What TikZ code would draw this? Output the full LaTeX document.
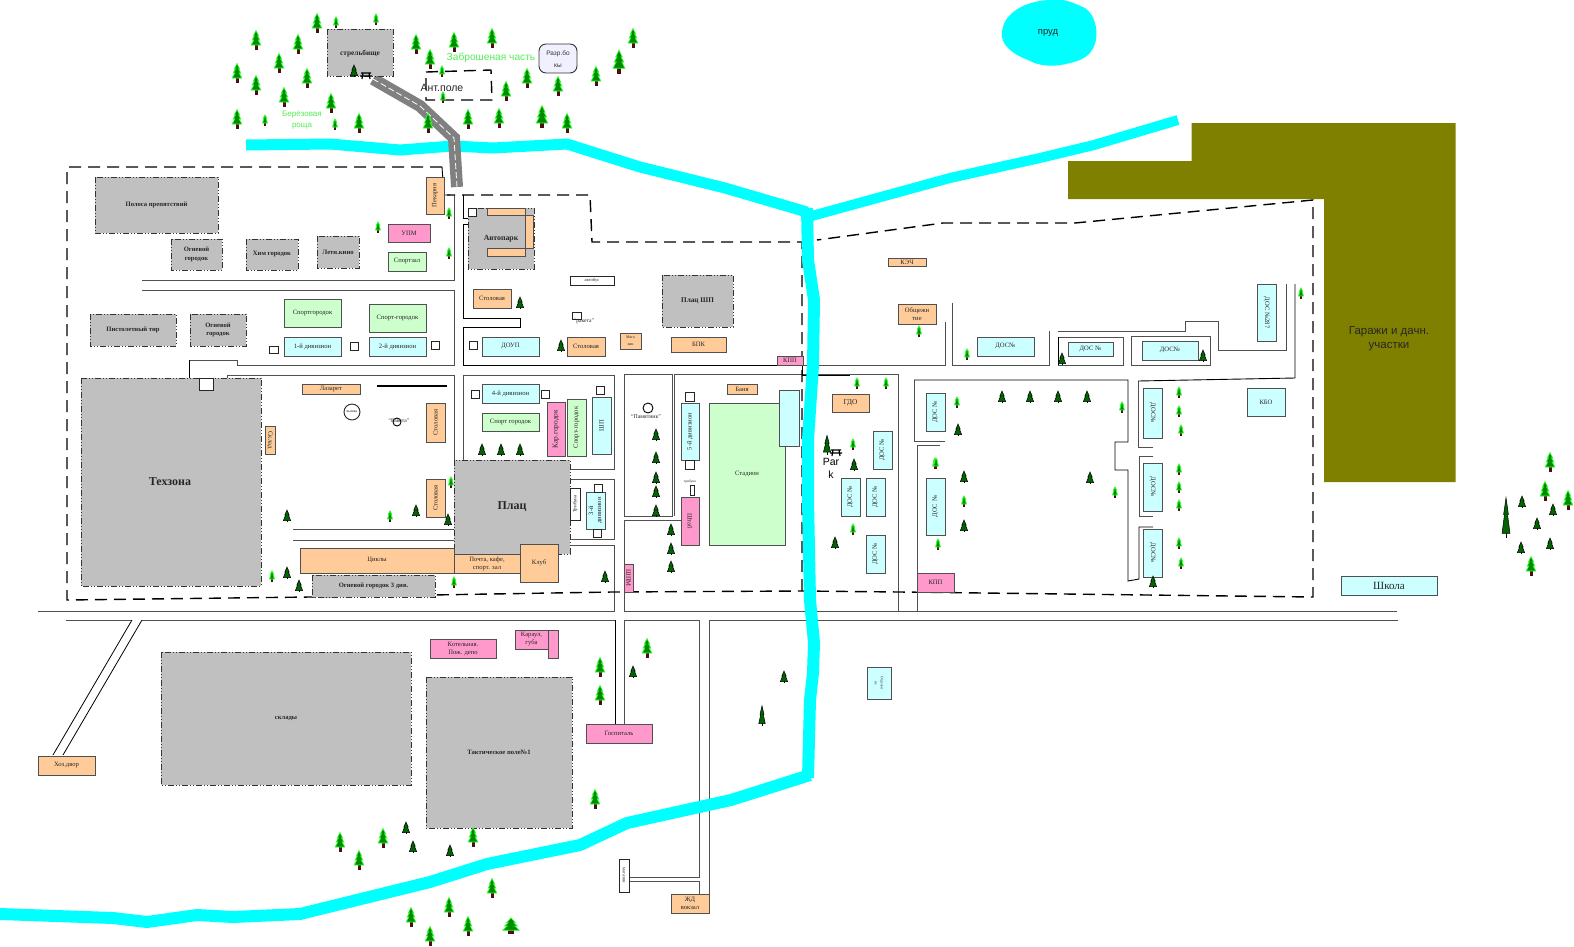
\documentclass[tikz,border=0pt]{standalone}
\usepackage{fontspec}
\setmainfont{Liberation Serif}
\newfontfamily\sansf{Liberation Sans}
\definecolor{cOr}{HTML}{FFCC99}
\definecolor{cCy}{HTML}{CCFFFF}
\definecolor{cGr}{HTML}{CCFFCC}
\definecolor{cPk}{HTML}{FF99CC}
\definecolor{cZn}{HTML}{C0C0C0}
\definecolor{cLn}{HTML}{505050}
\definecolor{cBr}{HTML}{4A0F0F}
\definecolor{cOl}{HTML}{808000}
\definecolor{cLg}{HTML}{55EE55}
\definecolor{cRv}{HTML}{00FFFF}
\definecolor{cFg}{HTML}{008A00}
\definecolor{cFl}{HTML}{33FF33}
\definecolor{cFd}{HTML}{006400}
\tikzset{
  base/.style={draw=cLn,line width=1pt},
  orb/.style={base,fill=cOr},
  cyb/.style={base,fill=cCy},
  grb/.style={base,fill=cGr},
  pkb/.style={base,fill=cPk},
  whb/.style={draw=black!85,line width=.9pt,fill=white},
  znb/.style={draw=black!80,fill=cZn,line width=1pt,dash pattern=on 6pt off 2pt on 1pt off 2pt on 1pt off 2pt},
  lbl/.style={inner sep=0pt,align=center,text=black!85,font=\fontsize{6.6}{8}\selectfont},
  zlb/.style={lbl,font=\fontsize{6.6}{8.5}\selectfont\bfseries},
  rd/.style={draw=cLn,line width=.9pt},
  bk/.style={draw=black,line width=.9pt},
  fence/.style={draw=black,line width=1.4pt,dash pattern=on 12pt off 7pt},
  riv/.style={draw=cRv,line join=round,line width=#1},
  firbig/.pic={
    \fill[cBr] (-1.5,3) rectangle (1.5,9.5);
    \filldraw[fill=cFg,draw=cFl,line width=.7pt]
      (0,-9.5)--(-2.6,-4)--(-1.6,-4)--(-3.8,0)--(-2.2,0)--(-4.8,5)--(4.8,5)--(2.2,0)--(3.8,0)--(1.6,-4)--(2.6,-4)--cycle;
  },
  firsm/.pic={
    \fill[cBr] (-.8,2) rectangle (.8,5.5);
    \filldraw[fill=cFg,draw=cFl,line width=.8pt]
      (0,-5)--(-1.6,-2)--(-1,-2)--(-2.4,3)--(2.4,3)--(1,-2)--(1.6,-2)--cycle;
  },
  firdk/.pic={
    \draw[black,line width=.7pt] (0,3) -- (0,6);
    \filldraw[fill=cFd,draw=black,line width=.5pt]
      (0,-6)--(-2.2,-1)--(-1.4,-1)--(-3.6,4.5)--(3.6,4.5)--(1.4,-1)--(2.2,-1)--cycle;
  },
  bench/.pic={
    \draw[black,line width=1.2pt] (-5,-2)--(5,-2) (-6,1)--(6,1) (-3,-2)--(-4,4) (3,-2)--(4,4);
  },
}
\newcommand{\bx}[5]{\draw[#1] (#2) rectangle (#3) node[midway,#4] {#5};}
\newcommand{\firsL}[1]{\foreach \xx/\yy in {#1} \pic at (\xx,\yy) {firbig};}
\newcommand{\firsS}[1]{\foreach \xx/\yy in {#1} \pic at (\xx,\yy) {firsm};}
\newcommand{\firsD}[1]{\foreach \xx/\yy in {#1} \pic at (\xx,\yy) {firdk};}
\newcommand{\sqs}[1]{\foreach \xx/\yy/\ww/\hh in {#1} \draw[whb] (\xx-\ww/2,\yy-\hh/2) rectangle (\xx+\ww/2,\yy+\hh/2);}
\begin{document}
\begin{tikzpicture}[x=1pt,y=-1pt]
\useasboundingbox (0,0) rectangle (1574,946);
\fill[white] (0,0) rectangle (1574,946);

% olive plots
\fill[cOl] (1191.5,123)--(1455.5,123)--(1455.5,482)--(1324,482)--(1324,199)--(1068,199)--(1068,161)--(1191.5,161)--cycle;
\node[inner sep=0pt,align=center,text=black!85,font=\sansf\fontsize{11.5}{14}\selectfont] at (1389,339) {Гаражи и дачн.\\участки};

% roads
\draw[rd] (38,611)--(615,611) (624,611)--(1397,611);
\draw[rd] (66,620)--(132,620) (142,620)--(615,620);
\draw[bk,line width=.8pt] (132,620)--(53,755) (142,620)--(63,755);
\draw[bk] (615,620)--(615,724);
\draw[rd] (624,724)--(624,620)--(699,620)--(699,877)--(630,877);
\draw[rd] (630,881)--(699,881)--(699,894);
\draw[rd] (709,894)--(709,620)--(1398,620);
\draw[rd] (142,280)--(454,280)--(454,195);
\draw[rd] (142,290)--(454,290)--(454,365)--(237,365)--(237,360)--(189,360);
\draw[bk] (189,360)--(189,378);
\draw[rd] (227,378)--(227,375)--(454,375)--(454,460);
\draw[rd] (293,529)--(454,529);
\draw[rd] (293,540)--(454,540);
\draw[bk] (463,195)--(463,218)--(470,218);
\draw[bk] (470,224)--(463,224)--(463,318)--(520,318)--(520,327)--(463,327)--(463,365)--(777,365);
\draw[rd] (463,460)--(463,375)--(614,375)--(614,469)--(570,469);
\draw[rd] (570,479)--(614,479)--(614,539)--(570,539);
\draw[rd] (570,545)--(614,545)--(614,611);
\draw[rd] (624,374) rectangle (672,516);
\draw[rd] (674,516)--(674,374)--(898,374)--(898,611);
\draw[rd] (681,520)--(624,520)--(624,611);
\draw[bk] (802,365)--(802,375)--(850,375);
\draw[rd] (917,611)--(917,445)--(940,445);
\draw[rd] (945,441)--(914,441)--(914,380);
\draw[bk] (914,380)--(1128,380)--(1128,442)--(1115,442)--(1115,470)--(1128,470)--(1128,581)--(1139,579)--(1139,527)--(1153,527);
\draw[rd] (1153,456)--(1139,456)--(1139,516)--(1153,516);
\draw[rd] (1153,447)--(1138,447)--(1138,381);
\draw[bk] (1138,381)--(1295,378)--(1295,284);
\draw[rd] (802,365)--(945,365)--(945,322);
\draw[rd] (952,303)--(952,365)--(1049,365)--(1049,331);
\draw[rd] (1058,331)--(1185,331)--(1185,321)--(1218,321)--(1218,350)--(1286,350)--(1286,284);
\draw[rd] (1058,337) rectangle (1123,365);
\draw[rd] (1131,336) rectangle (1210,365);
\draw[bk] (1058,337)--(1058,365);

% fences
\draw[fence] (442,167)--(67,167)--(67,600)--(310,597)--(612,592)--(802,591)--(900,592)--(1313,597)--(1313,200)--(1075,223)--(943,223)--(817,240);
\draw[fence] (802,591)--(802,242)--(592,242)--(590,195)--(447,195);
\draw[bk] (442,167)--(444,195)--(450,195);
\draw[fence] (426,72)--(491,70)--(492,100)--(426,100)--cycle;

% rivers
\draw[riv=11pt] (246,145)--(330,144)--(400,150)--(453,146)--(493,148)--(567,144)--(640,167)--(725,188)--(807,212);
\draw[riv=10pt] (808,217)--(950,178)--(1040,158)--(1094,145)--(1178,120);
\draw[riv=12pt] (807,208)--(808,260)--(814,300)--(813,365)--(808,440)--(808,500)--(810,600)--(814,643)--(813,673)--(810,700)--(808,778);
\draw[riv=12pt] (810,775)--(731,800)--(627,823)--(580,845)--(487,864)--(430,882)--(300,914)--(233,917)--(197,915)--(147,922)--(113,918)--(0,914);
\fill[cRv] (1048,0) .. controls (1060,-3) and (1072,2) .. (1085,8) .. controls (1094,14) and (1098,28) .. (1096,40) .. controls (1093,54) and (1084,60) .. (1070,63) .. controls (1056,67) and (1040,67) .. (1028,60) .. controls (1012,54) and (1000,44) .. (1002,32) .. controls (1003,16) and (1020,2) .. (1048,0) -- cycle;
\node[inner sep=0pt,text=black!85,font=\sansf\fontsize{9.5}{11}\selectfont] at (1048,33) {пруд};

% road across the river
\draw[draw=gray,line width=12pt,line join=miter] (373,79)--(420,106)--(454,138)--(457,187);
\draw[draw=white,line width=.8pt,dash pattern=on 6pt off 3pt] (373,79)--(420,106)--(454,138)--(457,187);

% grey zones
\bx{znb}{327,29}{393,76}{zlb,font=\fontsize{7.4}{9}\selectfont\bfseries,yshift=-1pt}{стрельбище}
\bx{znb}{95,177}{218,233}{zlb}{Полоса препятствий}
\bx{znb}{171,239}{222,270}{zlb}{Огневой\\городок}
\bx{znb}{246,239}{298,270}{zlb}{Хим городок}
\bx{znb}{317,236}{359,268}{zlb}{Летн.кино}
\bx{znb}{90,314}{176,346}{zlb}{Пистолетный тир}
\bx{znb}{190,314}{246,346}{zlb}{Огневой\\городок}
\bx{znb}{81,378}{261,586}{zlb,font=\fontsize{12}{14}\selectfont\bfseries,xshift=-1pt,yshift=0pt}{Техзона}
\bx{znb}{468,208}{534,269}{zlb,font=\fontsize{7.8}{9}\selectfont\bfseries}{Автопарк}
\bx{znb}{662,275}{733,327}{zlb,font=\fontsize{7.2}{9}\selectfont\bfseries}{Плац ШП}
\bx{znb}{454,460}{570,554}{zlb,font=\fontsize{12}{14}\selectfont\bfseries}{Плац}
\bx{znb}{312,575}{435,597}{zlb}{Огневой городок 3 див.}
\bx{znb}{161,652}{411,785}{zlb}{склады}
\bx{znb}{426,677}{572,828}{zlb}{Тактическое поле№1}

% orange
\bx{orb}{426,177}{444,214}{lbl,rotate=90}{Пекарня}
\bx{orb}{487,208}{525,215}{lbl}{}
\bx{orb}{525,215}{533,248}{lbl}{}
\bx{orb}{487,248}{525,256}{lbl}{}
\bx{orb}{473,289}{511,308}{lbl}{Столовая}
\bx{orb}{567,337}{605,356}{lbl}{Столовая}
\bx{orb}{620,333}{641,349}{lbl,font=\fontsize{4}{7}\selectfont}{Мага\\зин}
\bx{orb}{671,337}{726,352}{lbl}{БПК}
\bx{orb}{302,384}{360,394}{lbl}{Лазарет}
\bx{orb}{265,426}{275,454}{lbl,rotate=-90}{Склад}
\bx{orb}{426,403}{445,442}{lbl,rotate=90}{Столовая}
\bx{orb}{426,479}{445,517}{lbl,rotate=90}{Столовая}
\bx{orb}{300,548}{454,573}{lbl}{Циклы}
\bx{orb}{454,554}{520,573}{lbl}{Почта, кафе,\\спорт. зал}
\bx{orb}{520,544}{558,582}{lbl}{Клуб}
\bx{orb}{727,384}{757,394}{lbl}{Баня}
\bx{orb}{832,394}{869,412}{lbl,font=\fontsize{7.4}{9}\selectfont}{ГДО}
\bx{orb}{888,258}{926,266}{lbl}{КЭЧ}
\bx{orb}{898,304}{936,324}{lbl}{Общежи\\тие}
\bx{orb}{38,756}{95,775}{lbl}{Хоз.двор}
\bx{orb}{671,894}{709,913}{lbl}{ЖД\\вокзал}

% pink
\bx{pkb}{388,224}{430,242}{lbl}{УПМ}
\bx{pkb}{777,356}{803,365}{lbl}{КПП}
\bx{pkb}{547,402}{565,456}{lbl,rotate=90,font=\fontsize{7.4}{9}\selectfont}{Кар.городок}
\bx{pkb}{681,497}{699,545}{lbl,rotate=-90}{Штаб}
\bx{pkb}{624,564}{633,592}{lbl,rotate=-90}{ШПМ}
\bx{pkb}{917,573}{954,592}{lbl}{КПП}
\bx{pkb}{430,639}{496,658}{lbl}{Котельная.\\Пож. депо}
\bx{pkb}{515,630}{548,649}{lbl}{Караул,\\губа}
\bx{pkb}{548,630}{558,658}{lbl}{}
\bx{pkb}{586,724}{652,743}{lbl}{Госпиталь}

% green
\bx{grb}{388,252}{426,271}{lbl}{Спортзал}
\bx{grb}{284,299}{341,327}{lbl}{Спортгородок}
\bx{grb}{369,304}{426,332}{lbl}{Спорт-городок}
\bx{grb}{482,413}{539,431}{lbl}{Спорт городок}
\bx{grb}{567,399}{586,456}{lbl,rotate=90}{Спорт-городок}
\bx{grb}{709,403}{785,545}{lbl}{Стадион}

% light blue
\bx{cyb}{284,337}{341,356}{lbl}{1-й дивизион}
\bx{cyb}{369,337}{426,356}{lbl}{2-й дивизион}
\bx{cyb}{482,337}{539,356}{lbl}{ДОУП}
\bx{cyb}{482,384}{539,403}{lbl}{4-й дивизион}
\bx{cyb}{592,397}{611,454}{lbl,rotate=90}{ШП}
\bx{cyb}{586,492}{605,529}{lbl,rotate=90}{3-й\\дивизион}
\bx{cyb}{681,403}{699,460}{lbl,rotate=90}{5-й дивизион}
\bx{cyb}{779,390}{799,446}{lbl}{}
\bx{cyb}{873,431}{892,469}{lbl,rotate=90}{ДОС №}
\bx{cyb}{841,478}{860,516}{lbl,rotate=90}{ДОС №}
\bx{cyb}{866,478}{885,516}{lbl,rotate=90}{ДОС №}
\bx{cyb}{866,535}{885,573}{lbl,rotate=90}{ДОС №}
\bx{cyb}{926,393}{945,431}{lbl,rotate=90}{ДОС №}
\bx{cyb}{926,478}{945,535}{lbl,rotate=90}{ДОС №}
\bx{cyb}{977,337}{1034,356}{lbl}{ДОС№}
\bx{cyb}{1068,342}{1113,356}{lbl}{ДОС №}
\bx{cyb}{1142,341}{1198,360}{lbl}{ДОС№}
\bx{cyb}{1257,284}{1276,341}{lbl,rotate=-90}{ДОС №287}
\bx{cyb}{1143,388}{1162,438}{lbl,rotate=-90}{ДОС№}
\bx{cyb}{1143,463}{1162,511}{lbl,rotate=-90}{ДОС№}
\bx{cyb}{1143,529}{1162,577}{lbl,rotate=-90}{ДОС№}
\bx{cyb}{1247,388}{1285,416}{lbl}{КБО}
\bx{cyb}{867,667}{891,699}{lbl,rotate=-90,font=\fontsize{3.6}{6}\selectfont}{Отделен\\ие}
\bx{cyb}{1341,576}{1437,595}{lbl,font=\fontsize{11}{13}\selectfont}{Школа}

% white buildings and small squares
\bx{whb}{570,276}{614,285}{lbl,font=\fontsize{4.5}{6}\selectfont}{автобус}
\bx{whb}{570,488}{580,520}{lbl,rotate=90,font=\fontsize{5}{6}\selectfont}{Трибуна}
\bx{whb}{619,859}{629,892}{lbl,rotate=-90,font=\fontsize{4.5}{6}\selectfont}{магазин}
\sqs{206/384/14/12,472/212/8/8,473/345/8/8,274/350/9/7,354/346/8/8,435/345/8/8,577/316/9/7,475/394/8/8,545/394/8/8,600/390/8/8,598/488/8/8,597/533/8/8,690/397/9/9,690/465/9/9,692/490/4/10}

% rounded box
\draw[draw=black!80,fill=blue!6,line width=.9pt,rounded corners=7pt] (539,44) rectangle (577,73);
\node[inner sep=0pt,align=center,text=black!80,font=\sansf\fontsize{6.5}{12}\selectfont] at (558,59) {Разр.бо\\кы};

% circles and free labels
\draw[whb] (352,412) circle (8);
\node[lbl,font=\fontsize{3.8}{5}\selectfont] at (352,412) {вышка};
\draw[bk,line width=.9pt] (397,422) circle (4);
\node[lbl,font=\fontsize{5.6}{7}\selectfont] at (399,421) {“Ракета”};
\node[lbl,font=\fontsize{5.6}{7}\selectfont] at (584,321) {“ракета”};
\draw[bk,line width=.9pt] (648,408) circle (5);
\node[lbl,font=\fontsize{5.8}{7}\selectfont] at (646,417) {“Памятник”};
\node[lbl,font=\fontsize{3.5}{5}\selectfont] at (690,482) {трибуна};
\draw[black,line width=2pt] (377,386)--(447,386);
\node[inner sep=0pt,text=cLg,font=\sansf\fontsize{10.2}{12}\selectfont] at (491,58) {Заброшеная часть};
\node[inner sep=0pt,align=center,text=cLg,font=\sansf\fontsize{8}{11}\selectfont] at (302,120) {Берёзовая\\роща};
\node[inner sep=0pt,text=black!85,font=\sansf\fontsize{10.5}{12}\selectfont] at (442,88) {Ант.поле};
\node[inner sep=0pt,align=center,text=black,font=\sansf\fontsize{10.5}{13}\selectfont] at (831,468) {Par\\k};

% trees
\firsL{317/23,256/40,298/44,279/63,237/73,256/85,307/78,284/97,331/103,237/119,359/123,416/44,430/59,454/42,492/38,527/78,506/91,558/86,596/76,633/38,468/119,499/118,567/123,428/123,340/842,383/838,359/860,411/917,600/667,600/695,595/799,647/648,473/837,492/888,449/907,468/926,430/936,1550/462,1545/491,1568/500,1531/566}
\pic[scale=1.25] at (619,62) {firbig};
\pic[scale=1.2] at (542,117) {firbig};
\pic[xscale=1.7,yscale=.85] at (511,926) {firbig};
\firsS{336/22,376/19,265/120,335/124,443/97,442/71,378/227,449/213,449/253,390/516,451/482,272/576,454/582,857/383,886/383,853/444,853/529,935/463,938/544,919/331,967/354,1301/293,957/402,936/463,964/501,1122/407,1115/492,1179/392,1179/411,1181/430,1179/469,1179/487,1179/505,1179/543,1181/563}
\firsD{354/71,520/303,561/346,482/450,501/450,520/450,287/516,416/511,448/520,287/573,299/586,605/577,656/435,656/458,656/478,656/492,656/511,671/530,671/549,671/567,854/465,835/543,1062/359,1203/356,1002/397,1030/397,1058/397,1087/397,958/430,964/477,964/526,1090/478,1153/582,633/672,406/828,413/847,450/851,784/677,1522/502,1553/510,1537/524,1521/548,1550/544}
\pic[yscale=1.6] at (827,445) {firdk};
\pic[yscale=1.7,xscale=.9] at (762,716) {firdk};
\pic[yscale=3.4,xscale=1.1] at (1506,518) {firdk};
\pic at (366,75) {bench};
\pic at (836,452) {bench};
\end{tikzpicture}
\end{document}
